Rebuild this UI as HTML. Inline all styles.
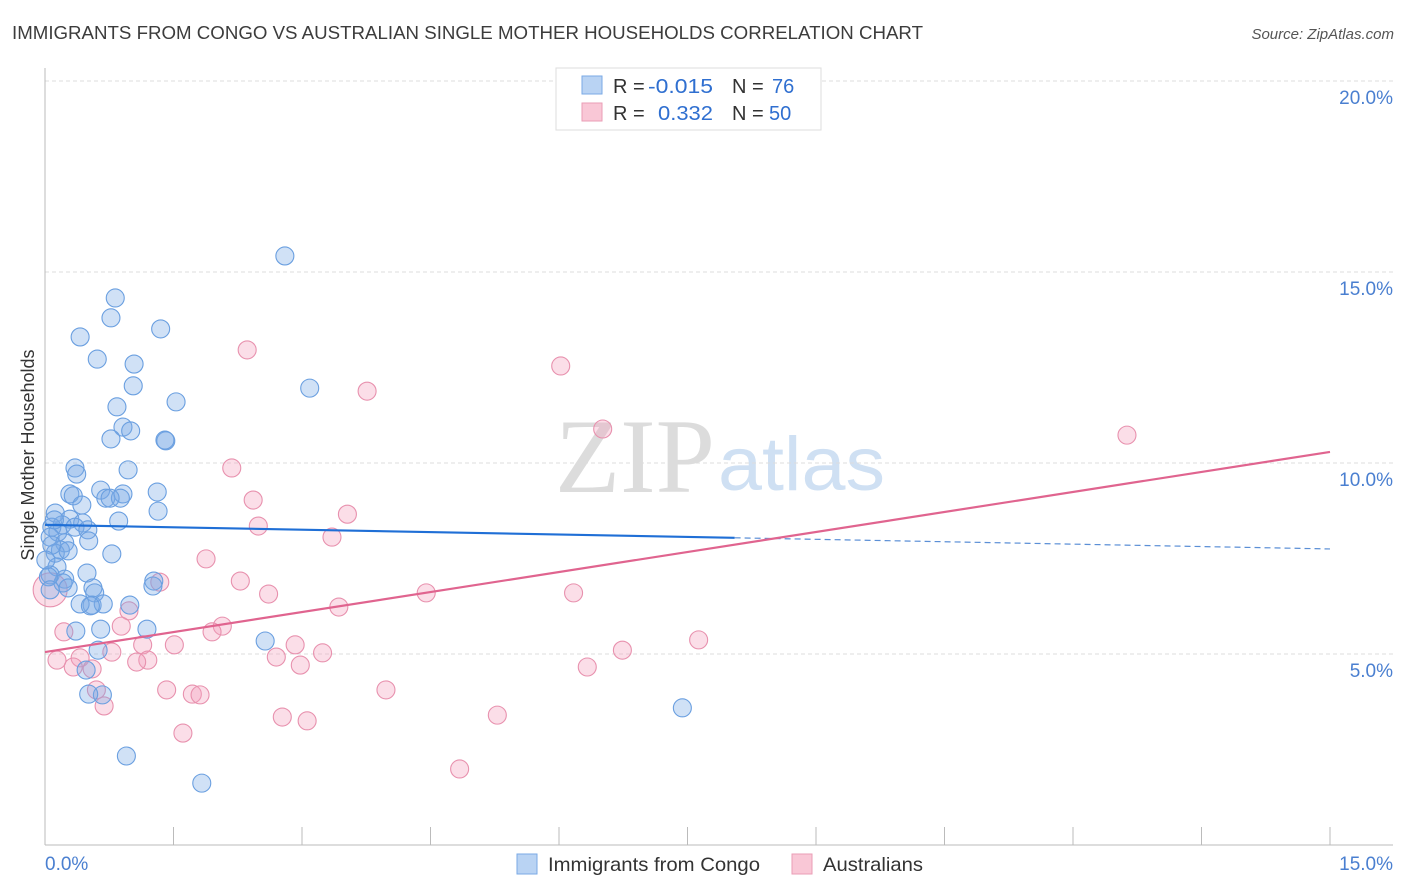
<!DOCTYPE html>
<html><head><meta charset="utf-8"><style>
body{margin:0;background:#fff;font-family:"Liberation Sans",sans-serif}
svg{display:block}
</style></head><body>
<svg width="1406" height="892" xmlns="http://www.w3.org/2000/svg" id="chart">
<text x="12" y="39" font-size="18.5" fill="#3c3c3c" textLength="911" lengthAdjust="spacingAndGlyphs">IMMIGRANTS FROM CONGO VS AUSTRALIAN SINGLE MOTHER HOUSEHOLDS CORRELATION CHART</text>
<text x="1394" y="39" font-size="15" fill="#555" font-style="italic" text-anchor="end">Source: ZipAtlas.com</text>
<g>
<text x="555" y="492" font-family="Liberation Serif,serif" font-size="106" fill="#dcdcdc" textLength="160" lengthAdjust="spacingAndGlyphs">ZIP</text>
<text x="718" y="490" font-size="76" fill="#cfe0f3" textLength="167" lengthAdjust="spacingAndGlyphs">atlas</text>
</g>
<g id="grid"></g>
<g id="axes"></g>
<g id="pts"></g>
<g id="lines"></g>
<text transform="translate(34,455) rotate(-90)" font-size="18" fill="#333" text-anchor="middle">Single Mother Households</text>
<g>
<rect x="556" y="68" width="265" height="62" fill="#fff" stroke="#ddd"/>
<rect x="582" y="76" width="20" height="18" fill="#b9d3f3" stroke="#7aaae6"/>
<rect x="582" y="103" width="20" height="18" fill="#f9c7d6" stroke="#ea9db6"/>
<text y="93" font-size="20" fill="#333"><tspan x="613">R =</tspan><tspan x="648" fill="#2f6fd0" textLength="65" lengthAdjust="spacingAndGlyphs">-0.015</tspan><tspan x="732">N =</tspan><tspan x="772" fill="#2f6fd0">76</tspan></text>
<text y="120" font-size="20" fill="#333"><tspan x="613">R =</tspan><tspan x="658" fill="#2f6fd0" textLength="55" lengthAdjust="spacingAndGlyphs">0.332</tspan><tspan x="732">N =</tspan><tspan x="769" fill="#2f6fd0">50</tspan></text>
</g>
<g>
<rect x="517" y="854" width="20" height="20" fill="#b9d3f3" stroke="#7aaae6"/>
<text x="548" y="871" font-size="19.5" fill="#333" textLength="212" lengthAdjust="spacingAndGlyphs">Immigrants from Congo</text>
<rect x="792" y="854" width="20" height="20" fill="#f9c7d6" stroke="#ea9db6"/>
<text x="823" y="871" font-size="19.5" fill="#333" textLength="100" lengthAdjust="spacingAndGlyphs">Australians</text>
</g>
</svg>
<script>
const yTicks=[5,10,15,20];
const yTickLabels=["5.0%","10.0%","15.0%","20.0%"];
const xTickVals=[0,1.5,3,4.5,6,7.5,9,10.5,12,13.5,15];
const blueX=[2.8,.82,.77,.41,1.35,.61,1.04,1.03,3.09,.84,1.53,.91,1.0,.77,1.41,1.4,.35,.97,.37,.29,.33,.65,1.31,.91,.71,.88,.43,1.32,.12,.29,.86,.44,.2,.08,.35,.5,.15,.06,.51,.23,.18,.78,.12,.27,.14,.06,.49,.23,.21,.27,1.27,1.26,.56,.58,.55,.68,.99,.41,.53,.36,.65,1.19,2.57,.62,.48,.67,.51,.95,1.83,7.44,.04,.11,.08,.01,.06,.76];
const blueY=[15.42,14.32,13.8,13.3,13.51,12.72,12.59,12.02,11.96,11.47,11.6,10.94,10.84,10.63,10.58,10.6,9.87,9.82,9.71,9.19,9.14,9.29,9.24,9.19,9.08,9.08,8.9,8.74,8.69,8.53,8.48,8.43,8.38,8.32,8.32,8.25,8.19,8.06,7.96,7.91,7.72,7.62,7.64,7.7,7.28,7.07,7.12,6.96,6.86,6.73,6.91,6.78,6.73,6.6,6.28,6.31,6.28,6.31,6.26,5.6,5.65,5.65,5.34,5.1,4.58,3.93,3.95,2.33,1.62,3.59,7.02,8.51,7.85,7.46,6.68,9.08];
const pinkX=[2.36,6.02,3.76,6.51,12.63,2.18,2.43,3.53,2.49,3.35,1.88,2.28,1.34,2.61,6.17,4.45,3.43,.98,.89,2.07,1.95,.22,1.51,2.92,3.24,1.14,7.63,6.74,.78,.41,.14,2.7,2.98,1.2,1.07,.55,.33,6.33,1.42,1.72,1.81,3.98,.6,.69,2.77,3.06,5.28,1.61,4.84,.06];
const pinkY=[12.96,12.54,11.88,10.89,10.73,9.87,9.03,8.66,8.35,8.06,7.49,6.91,6.88,6.57,6.6,6.6,6.23,6.13,5.73,5.73,5.58,5.58,5.24,5.24,5.03,5.24,5.37,5.1,5.05,4.9,4.84,4.92,4.71,4.84,4.79,4.61,4.66,4.66,4.06,3.95,3.93,4.06,4.06,3.64,3.35,3.25,3.4,2.93,1.99,6.68];
const blueTrend=[8.38,7.75];
const blueSolidEnd=8.05;
const pinkTrend=[5.05,10.29];
const NS="http://www.w3.org/2000/svg";
const X=v=>45+v*(1285/15);
const Y=v=>845-v*38.2;
function mk(tag,parent){const e=document.createElementNS(NS,tag);document.getElementById(parent).appendChild(e);return e;}
yTicks.forEach((t,i)=>{
 const l=mk('line','grid');
 
 
 l.setAttribute('x1',45);l.setAttribute('x2',1393);l.setAttribute('y1',Y(t));l.setAttribute('y2',Y(t));
 l.setAttribute('stroke','#ddd');l.setAttribute('stroke-dasharray','4,3');
 const tx=mk('text','grid');
 
 
 tx.setAttribute('x',1393);tx.setAttribute('y',Y(t)+23);tx.setAttribute('text-anchor','end');
 tx.setAttribute('font-size','19');tx.setAttribute('fill','#4a7fd0');tx.textContent=yTickLabels[i];
});
let a=mk('line','axes');a.setAttribute('x1',45);a.setAttribute('x2',45);a.setAttribute('y1',68);a.setAttribute('y2',845);a.setAttribute('stroke','#bbb');
a=mk('line','axes');a.setAttribute('x1',45);a.setAttribute('x2',1393);a.setAttribute('y1',845);a.setAttribute('y2',845);a.setAttribute('stroke','#bbb');
xTickVals.forEach(v=>{const t=mk('line','axes');
 
 
 t.setAttribute('x1',X(v));t.setAttribute('x2',X(v));t.setAttribute('y1',827);t.setAttribute('y2',845);t.setAttribute('stroke','#bbb');});
[[0,"0.0%",45,'start'],[15,"15.0%",1393,'end']].forEach(d=>{const t=mk('text','axes');
 
 
 t.setAttribute('x',d[2]);t.setAttribute('y',870);t.setAttribute('text-anchor',d[3]);t.setAttribute('font-size','19');t.setAttribute('fill','#4a7fd0');t.textContent=d[1];});
function dots(xs,ys,fill,stroke,name){xs.forEach((x,i)=>{const c=mk('circle','pts');
 
 
 c.setAttribute('cx',X(x));c.setAttribute('cy',Y(ys[i]));c.setAttribute('r',(name==='point-australians'&&i===xs.length-1)?17:9);
 c.setAttribute('fill',fill);c.setAttribute('stroke',stroke);c.setAttribute('stroke-width','1.1');});}
dots(pinkX,pinkY,'rgba(244,160,188,0.35)','#e891ae','point-australians');
dots(blueX,blueY,'rgba(120,170,230,0.35)','#6a9fe0','point-congo');
function ln(x1,y1,x2,y2,col,w,dash,name){const l=mk('line','lines');
 
 
 l.setAttribute('x1',X(x1));l.setAttribute('y1',Y(y1));l.setAttribute('x2',X(x2));l.setAttribute('y2',Y(y2));
 l.setAttribute('stroke',col);l.setAttribute('stroke-width',w);if(dash)l.setAttribute('stroke-dasharray',dash);}
const bAt=x=>blueTrend[0]+(blueTrend[1]-blueTrend[0])*x/15;
ln(0,blueTrend[0],blueSolidEnd,bAt(blueSolidEnd),'#1f6fd6',2.2,null,'trend-line-congo');
ln(blueSolidEnd,bAt(blueSolidEnd),15,blueTrend[1],'#5b8fd6',1.2,'6,4','trend-line-congo-dashed');
ln(0,pinkTrend[0],15,pinkTrend[1],'#e0648f',2.2,null,'trend-line-australians');
</script>
</body></html>
